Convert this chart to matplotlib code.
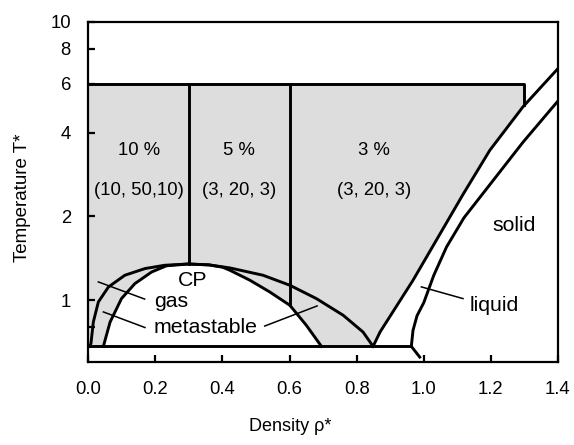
import numpy as np
import matplotlib
matplotlib.use("Agg")
import matplotlib.pyplot as plt
from matplotlib.patches import Polygon, Rectangle

plt.rcParams['font.family'] = ['Liberation Sans', 'DejaVu Sans']

# liquid-gas coexistence (binodal)
bin_rho = [0.005, 0.008, 0.015, 0.03, 0.06, 0.109, 0.169, 0.228, 0.298, 0.36, 0.422,
           0.521, 0.601, 0.68, 0.76, 0.819, 0.849]
bin_T = [0.683, 0.70, 0.835, 0.986, 1.116, 1.23, 1.30, 1.336, 1.35, 1.34, 1.307,
         1.23, 1.132, 1.014, 0.883, 0.769, 0.683]

# spinodal
spin_rho = [0.045, 0.065, 0.099, 0.139, 0.189, 0.233, 0.298, 0.36, 0.40, 0.422,
            0.482, 0.541, 0.601, 0.65, 0.695]
spin_T = [0.683, 0.835, 1.014, 1.148, 1.264, 1.33, 1.35, 1.34, 1.315, 1.282,
          1.18, 1.071, 0.959, 0.813, 0.683]

# freezing and melting lines
frz_rho = [0.849, 0.87, 0.968, 1.068, 1.117, 1.197, 1.296, 1.4]
frz_T = [0.683, 0.77, 1.18, 1.9, 2.4, 3.46, 4.96, 6.8]
melt_rho = [0.988, 0.963, 0.968, 0.98, 1.0, 1.03, 1.068, 1.12, 1.18, 1.296, 1.4]
melt_T = [0.625, 0.683, 0.78, 0.88, 0.98, 1.23, 1.555, 1.98, 2.45, 3.7, 5.2]

T_low = 0.683
T_high = 6.0
rho_cut = 1.3
rho_cp = 0.3
rho_split = 0.6

region_x = [0.152, 0.45, 0.853]
region_pct = ['10 %', '5 %', '3 %']
region_par = ['(10, 50,10)', '(3, 20, 3)', '(3, 20, 3)']

fig = plt.figure(figsize=(5.74, 4.45), dpi=100)
ax = fig.add_axes([0.1538, 0.1865, 0.8182, 0.7641])
ax.set_yscale('log')
ax.set_xlim(0, 1.4)
ax.set_ylim(0.6, 10)

# shaded simulation region: everything up to the freezing line, minus the spinodal dome
lw = 2.1
verts = [(0, T_low), (0, T_high), (1.4, T_high)]
verts += list(zip(frz_rho[::-1], frz_T[::-1]))
verts += list(zip(spin_rho[::-1], spin_T[::-1]))
shade = Polygon(verts, closed=True, facecolor='#dddddd', edgecolor='none', zorder=0)
ax.add_patch(shade)
shade.set_clip_path(Rectangle((0, 0.5), rho_cut, T_high - 0.5, transform=ax.transData))

ax.plot(bin_rho, bin_T, color='k', lw=lw)
ax.plot(spin_rho, spin_T, color='k', lw=lw)
ax.plot(frz_rho, frz_T, color='k', lw=lw)
ax.plot(melt_rho, melt_T, color='k', lw=lw)

ax.plot([0, melt_rho[1]], [T_low, T_low], color='k', lw=lw)
T_cut = np.interp(rho_cut, frz_rho, frz_T)
ax.plot([0, rho_cut, rho_cut], [T_high, T_high, T_cut], color='k', lw=lw)
T_cp = np.interp(rho_cp, bin_rho, bin_T)
ax.plot([rho_cp, rho_cp], [T_high, T_cp], color='k', lw=lw)
T_sp = np.interp(rho_split, spin_rho[9:], spin_T[9:])
ax.plot([rho_split, rho_split], [T_high, T_sp], color='k', lw=lw)

for x, p, q in zip(region_x, region_pct, region_par):
    ax.text(x, 3.46, p, ha='center', va='center', fontsize=13.3)
    ax.text(x, 2.49, q, ha='center', va='center', fontsize=13.3)

fs = 15.3
ax.text(0.31, 1.18, 'CP', ha='center', va='center', fontsize=fs)
ax.text(0.196, 0.99, 'gas', ha='left', va='center', fontsize=fs)
ax.text(0.196, 0.80, 'metastable', ha='left', va='center', fontsize=fs)
ax.text(1.137, 0.96, 'liquid', ha='left', va='center', fontsize=fs)
ax.text(1.205, 1.85, 'solid', ha='left', va='center', fontsize=fs)

# pointer lines
plw = 1.1
ax.plot([0.168, 0.03], [1.01, 1.164], color='k', lw=plw)
ax.plot([0.169, 0.045], [0.798, 0.908], color='k', lw=plw)
ax.plot([0.526, 0.682], [0.808, 0.954], color='k', lw=plw)
ax.plot([1.117, 0.993], [1.014, 1.117], color='k', lw=plw)

ax.set_xticks([0, 0.2, 0.4, 0.6, 0.8, 1.0, 1.2, 1.4])
ax.set_xticklabels(['0.0', '0.2', '0.4', '0.6', '0.8', '1.0', '1.2', '1.4'])
ax.set_yticks([0.8, 1, 2, 4, 6, 8, 10])
ax.set_yticklabels(['', '1', '2', '4', '6', '8', '10'])
ax.yaxis.set_minor_locator(matplotlib.ticker.NullLocator())
ax.tick_params(direction='in', length=5, width=1.6, labelsize=13.3)
ax.tick_params(axis='x', pad=14)
ax.tick_params(axis='y', pad=12.5)
for s in ax.spines.values():
    s.set_linewidth(1.6)

ax.set_xlabel('Density ρ*', fontsize=13)
ax.xaxis.set_label_coords(0.43, -0.165)
ax.xaxis.label.set_va('top')
ax.set_ylabel('Temperature T*', fontsize=13.5)
ax.yaxis.set_label_coords(-0.122, 0.484)

fig.savefig('out.png', dpi=100)
